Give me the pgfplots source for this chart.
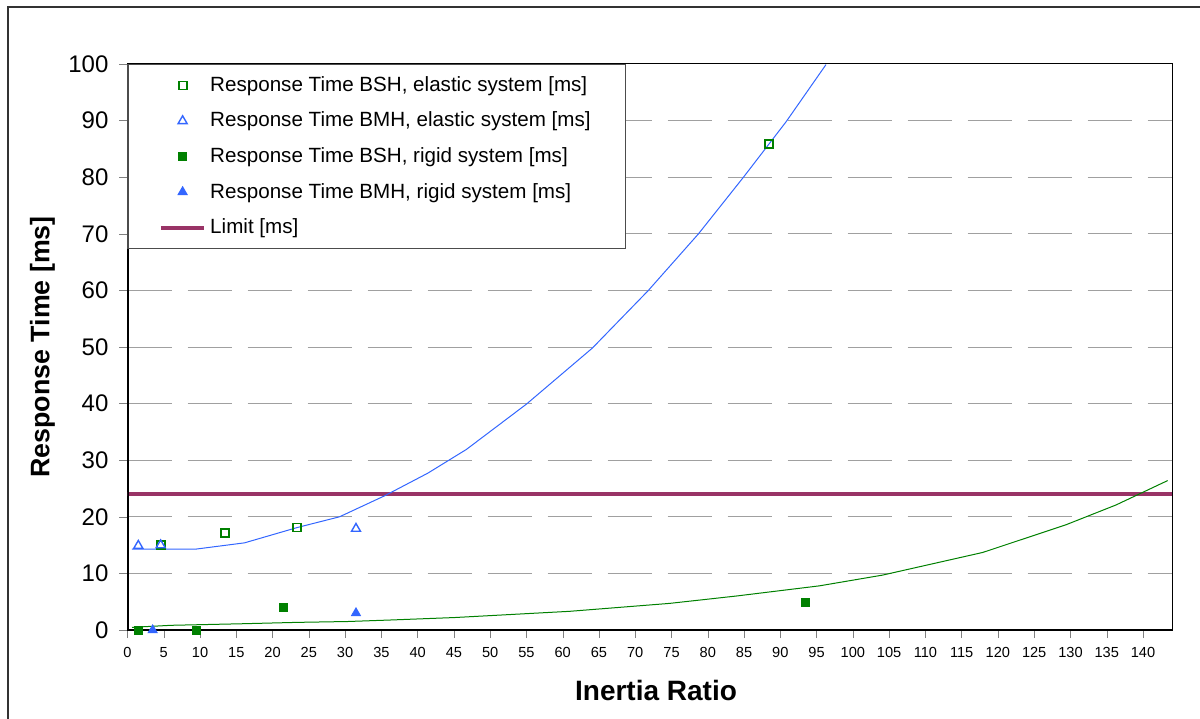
\documentclass[border=0pt]{standalone}
\usepackage{fontspec}
\setmainfont{Liberation Sans}
\usepackage{pgfplots}
\pgfplotsset{compat=1.18}
\definecolor{exgreen}{HTML}{008000}
\definecolor{exblue}{HTML}{3366FF}
\definecolor{exlimit}{HTML}{993366}
\definecolor{gridgray}{HTML}{A0A0A0}

\begin{document}
\begin{tikzpicture}
\useasboundingbox (-63.75pt,-44pt) rectangle (536.25pt,315pt);
% outer chart frame
\draw[line width=0.8pt, black!80] (-59.75pt,-50pt) -- (-59.75pt,311.5pt) -- (540pt,311.5pt);
\begin{axis}[
  at={(0,0)}, anchor=south west,
  scale only axis, width=522.25pt, height=283pt,
  xmin=0, xmax=144, ymin=0, ymax=100,
  xtick={0,5,...,140}, ytick={0,10,...,100},
  tick pos=left, tick align=outside, major tick length=4pt,
  /pgf/number format/assume math mode=true,
  x tick label style={font=\fontsize{7.3}{8}\selectfont, yshift=-1pt},
  y tick label style={font=\fontsize{12}{14}\selectfont, xshift=-2pt},
  ymajorgrids,
  grid style={gridgray, line width=0.5pt, dash pattern=on 22pt off 8pt},
  axis line style={line width=0.5pt},
  xlabel={\textbf{Inertia Ratio}},
  ylabel={\textbf{Response Time [ms]}},
  xlabel style={font=\fontsize{14}{16}\selectfont,
    at={(axis description cs:0.506,-0.106)}, anchor=center},
  ylabel style={font=\fontsize{13.4}{15}\selectfont,
    at={(axis description cs:-0.0814,0.5)}, anchor=center},
  legend cell align=left,
  legend style={at={(axis description cs:0,1)}, anchor=north west,
    draw=black!70, line width=0.5pt, fill=white,
    font=\fontsize{10.3}{12.4}\selectfont,
    inner xsep=15.5pt, inner ysep=4pt, row sep=4.8pt},
  legend image code/.code={\draw[mark repeat=2,mark phase=2,#1] plot coordinates {(0cm,0cm) (0.38cm,0cm) (0.76cm,0cm)};},
]
% Response Time BSH, elastic system
\addplot[only marks, color=exgreen, mark=square, mark size=2pt, line width=0.9pt,
  mark options={draw=exgreen, fill=none}]
  coordinates {(4.57,15.0) (13.47,17.1) (23.4,18.1) (88.4,85.9)};
% Response Time BMH, elastic system
\addplot[only marks, color=exblue, mark=triangle, mark size=2.6pt, line width=0.7pt,
  mark options={draw=exblue, fill=none}]
  coordinates {(1.49,14.9) (4.57,15.0) (31.5,17.9)};
% Response Time BSH, rigid system
\addplot[only marks, color=exgreen, mark=square*, mark size=2pt,
  mark options={draw=exgreen, fill=exgreen}]
  coordinates {(1.49,0) (9.48,0) (21.5,4.0) (93.4,4.9)};
% Response Time BMH, rigid system
\addplot[only marks, color=exblue, mark=triangle*, mark size=2.6pt,
  mark options={draw=exblue, fill=exblue}]
  coordinates {(3.47,0) (31.5,3.0)};
% Limit
\addplot[exlimit, line width=2pt, no marks] coordinates {(0,24) (144,24)};

% trend line, elastic system
\addplot[exblue, line width=0.5pt, no marks, forget plot] coordinates {
  (0.62,14.3) (5.0,14.3) (9.48,14.3) (16.14,15.4) (23.39,18.1) (29.23,20.0)
  (35.43,23.7) (41.39,27.7) (46.72,31.9) (54.99,39.9) (64.08,49.8)
  (71.74,59.9) (78.72,70.0) (84.92,80.0) (90.80,89.8) (96.30,99.9)};
% trend line, rigid system
\addplot[exgreen, line width=0.5pt, no marks, forget plot] coordinates {
  (0.62,0.47) (6.03,0.83) (15.67,1.1) (23.48,1.35) (30.37,1.5) (36.34,1.77)
  (45.07,2.2) (60.95,3.3) (74.72,4.7) (83.91,6.0) (95.39,7.8) (104.1,9.7)
  (117.9,13.7) (129.4,18.6) (136.3,22.1) (143.4,26.4)};

\legend{Response Time BSH{,} elastic system [ms],
        Response Time BMH{,} elastic system [ms],
        Response Time BSH{,} rigid system [ms],
        Response Time BMH{,} rigid system [ms],
        Limit [ms]}

\draw[line width=1pt] (rel axis cs:0,1) -- (rel axis cs:0,0) -- (rel axis cs:1,0);
\end{axis}
\end{tikzpicture}
\end{document}
